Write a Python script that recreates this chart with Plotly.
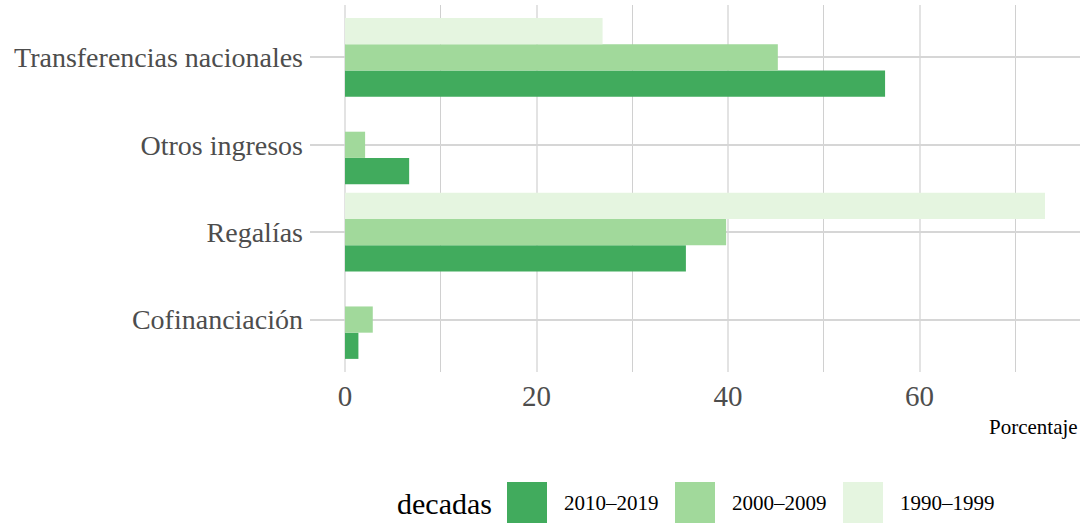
import plotly.graph_objects as go

categories = ["Cofinanciación", "Regalías", "Otros ingresos", "Transferencias nacionales"]
decades = ["2010–2019", "2000–2009", "1990–1999"]
colors = ["#41ab5d", "#a1d99b", "#e5f5e0"]
v_2010 = [1.4, 35.6, 6.7, 56.4]
v_2000 = [2.9, 39.8, 2.1, 45.2]
v_1990 = [None, 73.1, None, 26.9]
values = [v_2010, v_2000, v_1990]
x_ticks = [0, 20, 40, 60]

FONT = "Liberation Serif"

fig = go.Figure()
for name, col, vals in zip(decades, colors, values):
    fig.add_trace(go.Bar(
        y=categories, x=vals, name=name, orientation="h",
        marker=dict(color=col, line=dict(width=0)),
        showlegend=False,
    ))

xmax = max(v for s in values for v in s if v is not None)
pad = xmax * 0.05

fig.update_layout(
    width=1085, height=525,
    margin=dict(l=310, r=5, t=5, b=153),
    paper_bgcolor="white", plot_bgcolor="white",
    barmode="group", bargap=0.1, bargroupgap=0,
    font=dict(family=FONT, color="#4d4d4d"),
    xaxis=dict(
        range=[-pad, xmax + pad],
        tickvals=x_ticks, ticktext=[str(t) for t in x_ticks],
        tickfont=dict(size=29, color="#4d4d4d", family=FONT),
        showgrid=True, gridcolor="#e3e3e3", gridwidth=2,
        minor=dict(tickmode="linear", tick0=10, dtick=20, showgrid=True,
                   gridcolor="#d0d0d0", gridwidth=1),
        zeroline=False, showline=False, ticks="",
        ticklabelstandoff=4,
    ),
    yaxis=dict(
        categoryorder="array", categoryarray=categories,
        range=[-0.6, len(categories) - 0.4],
        tickfont=dict(size=28, color="#4d4d4d", family=FONT),
        showgrid=True, gridcolor="#d6d6d6", gridwidth=1.5,
        zeroline=False, showline=False, ticks="",
        ticklabelstandoff=6,
    ),
)

# axis title
fig.add_annotation(text="Porcentaje", xref="paper", yref="paper",
                   x=1.0, y=-(427 - 372) / 367, xanchor="right", yanchor="middle",
                   showarrow=False, font=dict(size=21, color="black", family=FONT))

# legend (drawn)
fig.add_annotation(text="decadas", xref="paper", yref="paper",
                   x=(395 - 310) / 770, y=-(503 - 372) / 367,
                   xanchor="left", yanchor="middle", showarrow=False,
                   font=dict(size=30, color="black", family=FONT))
sw_x = [507, 675, 843]
for name, col, sx in zip(decades, colors, sw_x):
    fig.add_shape(type="rect", xref="paper", yref="paper",
                  x0=(sx - 310) / 770, x1=(sx + 40 - 310) / 770,
                  y0=-(523 - 372) / 367, y1=-(482 - 372) / 367,
                  fillcolor=col, line=dict(width=0))
    fig.add_annotation(text=name, xref="paper", yref="paper",
                       x=(sx + 55 - 310) / 770, y=-(503 - 372) / 367,
                       xanchor="left", yanchor="middle", showarrow=False,
                       font=dict(size=21, color="black", family=FONT))

fig.write_html("out.html", config={"displayModeBar": False},
               post_script="document.body.style.margin='0';document.body.style.overflow='hidden';")
